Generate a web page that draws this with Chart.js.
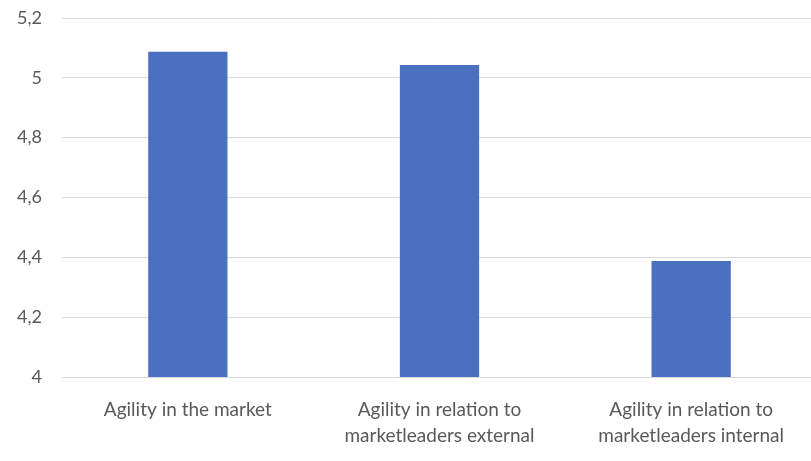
<!DOCTYPE html>
<html>
<head>
<meta charset="utf-8">
<script src="https://cdn.jsdelivr.net/npm/chart.js@4/dist/chart.umd.min.js"></script>
<style>
  html, body { margin: 0; padding: 0; background: #fff; overflow: hidden; }
  #wrap { width: 817px; height: 461px; position: relative; }
</style>
</head>
<body>
<div id="wrap"><canvas id="c"></canvas></div>
<script>
// Agility scores per category
const categories = [
  ["Agility in the market"],
  ["Agility in relation to", "marketleaders external"],
  ["Agility in relation to", "marketleaders internal"]
];
const scores = [5.087, 5.043, 4.388];
const yMin = 4;
const yMax = 5.2;
const yStep = 0.2;

const textColor = "#595959";
const gridColor = "#d9d9d9";
const barColor = "#4a70c0";

new Chart(document.getElementById("c"), {
  type: "bar",
  data: {
    labels: categories,
    datasets: [{
      data: scores,
      backgroundColor: barColor,
      borderWidth: 0,
      barPercentage: 0.63,
      categoryPercentage: 0.5
    }]
  },
  options: {
    responsive: true,
    maintainAspectRatio: false,
    animation: false,
    layout: { padding: { top: 18, right: 0, bottom: 0, left: 0 } },
    plugins: { legend: { display: false }, tooltip: { enabled: false } },
    scales: {
      x: {
        afterFit: (axis) => { axis.height = 84; axis.paddingLeft = 0; axis.paddingRight = 0; },
        grid: { display: false, drawTicks: false },
        border: { display: true, color: gridColor, width: 1 },
        ticks: {
          color: textColor,
          font: { family: "Lato", size: 19, lineHeight: 1.35 },
          padding: 20,
          maxRotation: 0,
          autoSkip: false
        }
      },
      y: {
        min: yMin,
        max: yMax,
        afterFit: (axis) => { axis.width = 62; axis.paddingTop = 0; axis.paddingBottom = 0; },
        grid: { color: gridColor, lineWidth: 1, drawTicks: false },
        border: { display: false },
        ticks: {
          stepSize: yStep,
          color: textColor,
          font: { family: "Lato", size: 18 },
          padding: 20,
          callback: (v) => Number(v.toFixed(1)).toString().replace(".", ",")
        }
      }
    }
  }
});
</script>
</body>
</html>
